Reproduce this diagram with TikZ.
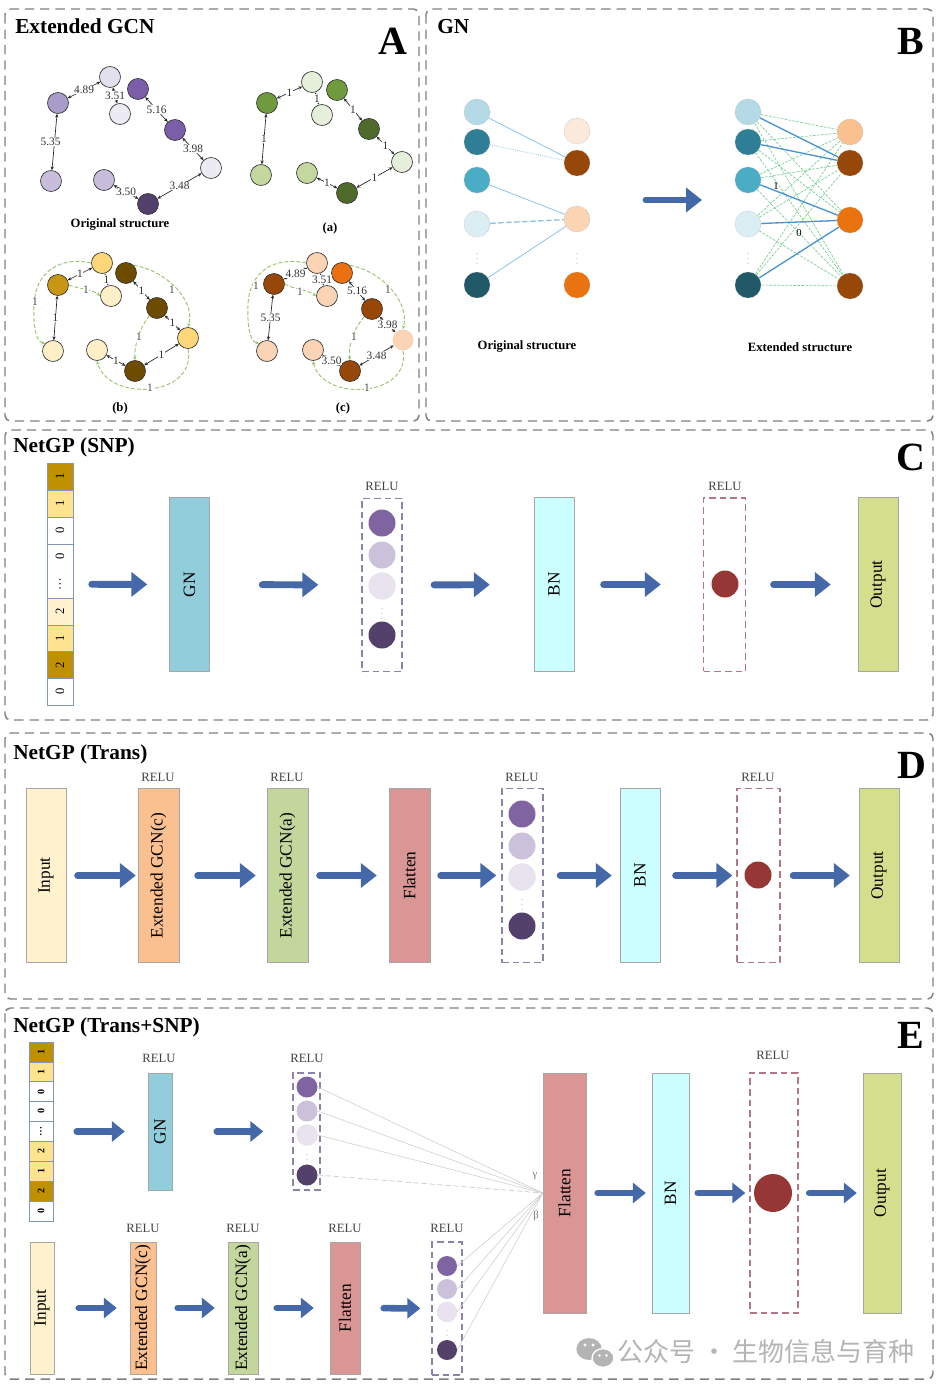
\documentclass[tikz,border=0pt]{standalone}
\usepackage{fontspec}
\setmainfont{Liberation Serif}
\newfontfamily\cjkfont{Noto Sans CJK SC}
\usepackage{graphicx}
\usetikzlibrary{arrows.meta}
\definecolor{framegray}{HTML}{808080}
\definecolor{arrowblue}{HTML}{4568A8}
\definecolor{relugray}{HTML}{404040}
\definecolor{purpA}{HTML}{8064A2}
\definecolor{purpB}{HTML}{CCC1DA}
\definecolor{purpC}{HTML}{E8E3EF}
\definecolor{purpD}{HTML}{53406B}
\definecolor{reluboxP}{HTML}{8C84A8}
\definecolor{reluboxR}{HTML}{B07882}
\definecolor{redball}{HTML}{953735}
\definecolor{gnfill}{HTML}{92CDDC}
\definecolor{bnfill}{HTML}{CCFFFF}
\definecolor{outfill}{HTML}{D4DF8E}
\definecolor{infill}{HTML}{FFF2CC}
\definecolor{ecfill}{HTML}{FAC090}
\definecolor{eafill}{HTML}{C3D69B}
\definecolor{flfill}{HTML}{D99694}
\definecolor{goldD}{HTML}{BF9000}
\definecolor{goldL}{HTML}{FFE38F}
\definecolor{goldP}{HTML}{FFF2CC}
\definecolor{cellline}{HTML}{8497B0}
\definecolor{wmgray}{HTML}{B4B4B4}
\definecolor{fangray}{HTML}{D0D0D0}
\definecolor{greenedge}{HTML}{9DC46E}
\definecolor{bblue}{HTML}{8DC3E8}
\definecolor{bbold}{HTML}{4A94D2}
\definecolor{bgreen}{HTML}{6CCB8A}
% graph colours
\definecolor{P0}{HTML}{E4DFEE}
\definecolor{P1}{HTML}{A99CC9}
\definecolor{P2}{HTML}{7B5EA7}
\definecolor{P3}{HTML}{C8BEDC}
\definecolor{P4}{HTML}{54406D}
\definecolor{P5}{HTML}{ECEAF3}
\definecolor{G0}{HTML}{E6EFDA}
\definecolor{G1}{HTML}{6F9A3E}
\definecolor{G2}{HTML}{4F6B2B}
\definecolor{G3}{HTML}{C3D79E}
\definecolor{Y0}{HTML}{FDD77A}
\definecolor{Y1}{HTML}{C79612}
\definecolor{Y2}{HTML}{6D4C00}
\definecolor{Y3}{HTML}{FFF0C7}
\definecolor{O0}{HTML}{FBD4B6}
\definecolor{O1}{HTML}{974708}
\definecolor{O2}{HTML}{E96F10}
\definecolor{Bl1}{HTML}{B3DAE6}
\definecolor{Bl2}{HTML}{2E7F95}
\definecolor{Bl3}{HTML}{4BACC6}
\definecolor{Bl4}{HTML}{DAEEF3}
\definecolor{Bl5}{HTML}{215968}
\definecolor{Br1}{HTML}{FDE9D9}
\definecolor{Br3}{HTML}{FBD4B4}
\definecolor{Br4}{HTML}{E8730F}
\definecolor{Br5}{HTML}{FAC090}
\tikzset{
  panel/.style={draw=framegray,line width=1.1pt,dash pattern=on 7pt off 4.5pt,rounded corners=4pt},
  ptitle/.style={font=\fontsize{16}{18}\selectfont\bfseries,anchor=base west,inner sep=0pt},
  pletter/.style={font=\fontsize{30}{32}\selectfont\bfseries,anchor=base,inner sep=0pt},
  bigarrow/.style={draw=arrowblue,line width=5.2pt,line cap=round,-{Triangle[length=12pt,width=18pt]}},
  smallarrow/.style={draw=arrowblue,line width=4.9pt,line cap=round,-{Triangle[length=9.75pt,width=15pt]}},
  arr/.style 2 args={bigarrow,shorten <=#1,shorten >=#2},
  sarr/.style 2 args={smallarrow,shorten <=#1,shorten >=#2},
  layer/.style={rectangle,inner sep=0pt,draw=black!35,line width=0.3pt,font=\fontsize{13}{14}\selectfont},
  cbox/.style={layer,minimum width=30pt,minimum height=130.5pt},
  rbox/.style={rectangle,draw=#1,dash pattern=on 5pt off 3pt,line width=1pt,inner sep=0pt},
  ball/.style={circle,inner sep=0pt,minimum size=#1},
  relu/.style={font=\fontsize{9.5}{10}\selectfont,text=relugray,inner sep=0pt},
  vdot/.style={font=\fontsize{6}{6}\selectfont,text=black!45,inner sep=0pt},
  gnode/.style={circle,draw=black!80,line width=0.5pt,inner sep=0pt,minimum size=15.75pt},
  gedge/.style={draw=black!85,line width=0.5pt,{Stealth[length=2.8pt,width=2.4pt]}-{Stealth[length=2.8pt,width=2.4pt]}},
  elab/.style={fill=white,inner sep=0.4pt,font=\fontsize{8.5}{9}\selectfont,text=black!80},
  gcurve/.style={draw=greenedge,line width=0.7pt,dash pattern=on 3pt off 1.5pt,-{Stealth[length=3pt,width=2.6pt]}},
  glab/.style={fill=white,inner sep=0.4pt,font=\fontsize{8.5}{9}\selectfont,text=black!70},
  sublab/.style={font=\fontsize{9.5}{10}\selectfont\bfseries,inner sep=0pt},
  bnode/.style={circle,inner sep=0pt,minimum size=19.5pt,draw=black!35,line width=0.4pt,densely dotted},
  bdash/.style={draw=bgreen,line width=0.45pt,dash pattern=on 2pt off 1pt},
  cellC/.style={rectangle,draw=cellline,line width=0.5pt,inner sep=0pt,minimum width=19.5pt,font=\fontsize{9.5}{10}\selectfont},
  cellE/.style={rectangle,draw=cellline,line width=0.5pt,inner sep=0pt,minimum width=18pt,minimum height=15pt,font=\fontsize{7.5}{8}\selectfont\bfseries},
  celltxt/.style={inner sep=0pt,font=\fontsize{9.5}{10}\selectfont}
}
\begin{document}
\begin{tikzpicture}[x=0.75pt,y=-0.75pt]
\fill[white] (0,0) rectangle (943,1391);
\useasboundingbox (0,0) rectangle (943,1391);

%================ Panel A =================
\draw[panel] (5,9) rectangle (419,421);
\node[ptitle] (tA) at (15,34) {Extended GCN};
\node[pletter] (lA) at (393,55) {A};

% original structure
\node[gnode,fill=P0] (n1) at (110,77) {};
\node[gnode,fill=P1] (n2) at (58,103) {};
\node[gnode,fill=P2] (n3) at (138,89) {};
\node[gnode,fill=P5] (n4) at (120,114) {};
\node[gnode,fill=P2] (n5) at (175,130) {};
\node[gnode,fill=P5] (n6) at (211,168) {};
\node[gnode,fill=P3] (n7) at (51,181) {};
\node[gnode,fill=P3] (n8) at (104,180) {};
\node[gnode,fill=P4] (n9) at (148,204) {};
\draw[gedge] (n1) -- node[elab]{4.89} (n2);
\draw[gedge] (n1) -- node[elab]{3.51} (n4);
\draw[gedge] (n3) -- node[elab]{5.16} (n5);
\draw[gedge] (n5) -- node[elab]{3.98} (n6);
\draw[gedge] (n6) -- node[elab]{3.48} (n9);
\draw[gedge] (n9) -- node[elab]{3.50} (n8);
\draw[gedge] (n2) -- node[elab,xshift=-3pt]{5.35} (n7);
\node[sublab] (sOrig) at (120,225) {Original structure};

% (a)
\node[gnode,fill=G0] (a1) at (312,82) {};
\node[gnode,fill=G1] (a2) at (267,103) {};
\node[gnode,fill=G1] (a3) at (337,90) {};
\node[gnode,fill=G0] (a4) at (322,115) {};
\node[gnode,fill=G2] (a5) at (369,129) {};
\node[gnode,fill=G0] (a6) at (402,162) {};
\node[gnode,fill=G3] (a7) at (261,175) {};
\node[gnode,fill=G3] (a8) at (307,173) {};
\node[gnode,fill=G2] (a9) at (347,193) {};
\draw[gedge] (a1) -- node[elab]{1} (a2);
\draw[gedge] (a1) -- node[elab]{1} (a4);
\draw[gedge] (a3) -- node[elab]{1} (a5);
\draw[gedge] (a5) -- node[elab]{1} (a6);
\draw[gedge] (a6) -- node[elab]{1} (a9);
\draw[gedge] (a9) -- node[elab]{1} (a8);
\draw[gedge] (a2) -- node[elab]{1} (a7);
\node[sublab] (sA) at (330,228) {(a)};

% (b)
\node[gnode,fill=Y0] (b1) at (102,263) {};
\node[gnode,fill=Y1] (b2) at (58,285) {};
\node[gnode,fill=Y2] (b3) at (126,273) {};
\node[gnode,fill=Y3] (b4) at (111,296) {};
\node[gnode,fill=Y2] (b5) at (157,308) {};
\node[gnode,fill=Y0] (b6) at (188,338) {};
\node[gnode,fill=Y3] (b7) at (53,351) {};
\node[gnode,fill=Y3] (b8) at (97,350) {};
\node[gnode,fill=Y2] (b9) at (135,371) {};
\draw[gcurve] (b1.west) .. controls (60,256) and (35,272) .. (34,305) .. controls (33,330) and (37,342) .. (b7.north west);
\draw[gcurve] (b2.east) .. controls (78,289) and (92,289) .. (b4.west);
\draw[gcurve] (b3.north east) .. controls (165,270) and (196,300) .. (b6.north);
\draw[gcurve] (b5.south west) .. controls (140,328) and (134,345) .. (b9.north);
\draw[gcurve] (b6.south) .. controls (197,398) and (108,402) .. (b8.south);
\node[glab] (bl1) at (35,302) {1};
\node[glab] (bl2) at (86,290) {1};
\node[glab] (bl3) at (172,290) {1};
\node[glab] (bl4) at (139,337) {1};
\node[glab] (bl5) at (150,388) {1};
\draw[gedge] (b1) -- node[elab]{1} (b2);
\draw[gedge] (b1) -- node[elab]{1} (b4);
\draw[gedge] (b3) -- node[elab]{1} (b5);
\draw[gedge] (b5) -- node[elab]{1} (b6);
\draw[gedge] (b6) -- node[elab]{1} (b9);
\draw[gedge] (b9) -- node[elab]{1} (b8);
\draw[gedge] (b2) -- node[elab]{1} (b7);
\node[sublab] (sB) at (120,408) {(b)};

% (c)
\node[gnode,fill=O0] (c1) at (317,263) {};
\node[gnode,fill=O1] (c2) at (274,284) {};
\node[gnode,fill=O2] (c3) at (342,273) {};
\node[gnode,fill=O0] (c4) at (327,296) {};
\node[gnode,fill=O1] (c5) at (372,309) {};
\node[gnode,fill=O0,draw=none] (c6) at (403,340) {};
\node[gnode,fill=O0] (c7) at (267,351) {};
\node[gnode,fill=O0] (c8) at (313,350) {};
\node[gnode,fill=O1] (c9) at (350,371) {};
\draw[gcurve] (c1.west) .. controls (274,256) and (249,272) .. (248,305) .. controls (247,330) and (251,342) .. (c7.north west);
\draw[gcurve] (c2.east) .. controls (292,289) and (306,289) .. (c4.west);
\draw[gcurve] (c3.north east) .. controls (379,270) and (410,300) .. (c6.north);
\draw[gcurve] (c5.south west) .. controls (354,328) and (348,345) .. (c9.north);
\draw[gcurve] (c6.south) .. controls (411,398) and (322,402) .. (c8.south);
\node[glab] (cl1) at (256,286) {1};
\node[glab] (cl2) at (300,292) {1};
\node[glab] (cl3) at (388,290) {1};
\node[glab] (cl4) at (354,337) {1};
\node[glab] (cl5) at (367,388) {1};
\draw[gedge] (c1) -- node[elab]{4.89} (c2);
\draw[gedge] (c1) -- node[elab]{3.51} (c4);
\draw[gedge] (c3) -- node[elab]{5.16} (c5);
\draw[gedge] (c5) -- node[elab]{3.98} (c6);
\draw[gedge] (c6) -- node[elab]{3.48} (c9);
\draw[gedge] (c9) -- node[elab]{3.50} (c8);
\draw[gedge] (c2) -- node[elab]{5.35} (c7);
\node[sublab] (sC) at (343,408) {(c)};

%================ Panel B =================
\draw[panel] (426,9) rectangle (933,421);
\node[ptitle] (tB) at (437,34) {GN};
\node[pletter] (lB) at (911,55) {B};

\node[bnode,fill=Bl1] (oL1) at (477,112) {};
\node[bnode,fill=Bl2] (oL2) at (477,142) {};
\node[bnode,fill=Bl3] (oL3) at (477,180) {};
\node[bnode,fill=Bl4] (oL4) at (477,224) {};
\node[bnode,fill=Bl5] (oL5) at (477,285) {};
\node[vdot] (oLd) at (477,255) {$\vdots$};
\node[bnode,fill=Br1] (oR1) at (577,131) {};
\node[bnode,fill=O1] (oR2) at (577,163) {};
\node[bnode,fill=Br3] (oR3) at (577,219) {};
\node[bnode,fill=Br4] (oR4) at (577,285) {};
\node[vdot] (oRd) at (577,255) {$\vdots$};
\draw[bblue,line width=0.6pt] (oL1) -- (oR2);
\draw[bblue,line width=0.6pt,densely dotted] (oL2) -- (oR2);
\draw[bblue,line width=0.6pt] (oL3) -- (oR3);
\draw[bblue,line width=1pt,dash pattern=on 4pt off 2pt] (oL4) -- (oR3);
\draw[bblue,line width=0.6pt] (oL5) -- (oR3);
\node[sublab] (sBo) at (527,347) {Original structure};

\coordinate (bA) at (646,200);
\coordinate (bB) at (702,200);
\draw[bigarrow] (bA) -- (bB);

\node[bnode,fill=Bl1] (eL1) at (748,112) {};
\node[bnode,fill=Bl2] (eL2) at (748,142) {};
\node[bnode,fill=Bl3] (eL3) at (748,180) {};
\node[bnode,fill=Bl4] (eL4) at (748,224) {};
\node[bnode,fill=Bl5] (eL5) at (748,285) {};
\node[vdot] (eLd) at (748,255) {$\vdots$};
\node[bnode,fill=Br5] (eR1) at (850,132) {};
\node[bnode,fill=O1] (eR2) at (850,163) {};
\node[bnode,fill=Br4] (eR3) at (850,220) {};
\node[bnode,fill=O1] (eR4) at (850,286) {};
\foreach \l/\r in {eL1/eR1,eL1/eR3,eL1/eR4,eL2/eR1,eL2/eR3,eL2/eR4,eL3/eR1,eL3/eR2,eL3/eR4,eL4/eR1,eL4/eR2,eL4/eR4,eL5/eR1,eL5/eR2,eL5/eR4}
  \draw[bdash] (\l) -- (\r);
\draw[bbold,line width=1pt] (eL1) -- (eR2);
\draw[bbold,line width=1pt] (eL2) -- (eR2);
\draw[bbold,line width=1pt] (eL3) -- (eR3);
\draw[bbold,line width=1pt] (eL4) -- (eR3);
\draw[bbold,line width=1pt] (eL5) -- (eR3);
\node[inner sep=0pt,font=\fontsize{8}{8}\selectfont] (w1) at (776,186) {1};
\node[inner sep=0pt,font=\fontsize{8}{8}\selectfont] (w0) at (799,233) {0};
\node[sublab] (sBe) at (800,347) {Extended structure};

%================ Panel C =================
\draw[panel] (5,430) rectangle (933,720);
\node[ptitle] (tC) at (13,452) {NetGP (SNP)};
\node[pletter] (lC) at (911,470) {C};

\node[inner sep=0pt,minimum width=19.5pt,minimum height=181.5pt] (snpC) at (60,584.2) {};
\node[cellC,fill=goldD,minimum height=20pt] (sc1) at (60,476.7) {\rotatebox{90}{1}};
\node[cellC,fill=goldL,minimum height=20.5pt] (sc2) at (60,503.7) {\rotatebox{90}{1}};
\node[cellC,fill=white,minimum height=20pt] (sc3) at (60,530.7) {\rotatebox{90}{0}};
\node[cellC,fill=white,minimum height=40.7pt] (sc4) at (60,571.2) {};
\node[celltxt] (sc4a) at (60,556.5) {\rotatebox{90}{0}};
\node[celltxt] (sc4b) at (60,584) {\rotatebox{90}{…}};
\node[cellC,fill=goldP,minimum height=20pt] (sc5) at (60,611.7) {\rotatebox{90}{2}};
\node[cellC,fill=goldL,minimum height=20pt] (sc6) at (60,638.3) {\rotatebox{90}{1}};
\node[cellC,fill=goldD,minimum height=20pt] (sc7) at (60,665) {\rotatebox{90}{2}};
\node[cellC,fill=white,minimum height=20pt] (sc8) at (60,691.7) {\rotatebox{90}{0}};

\node[cbox,fill=gnfill] (gnC) at (189.5,584.5) {\rotatebox{90}{GN}};
\node[rbox=reluboxP,minimum width=30pt,minimum height=130pt] (r1C) at (382,585) {};
\node[relu] (r1Cl) at (382,486) {RELU};
\node[ball=20.25pt,fill=purpA] (c1C) at (382,523) {};
\node[ball=20.25pt,fill=purpB] (c2C) at (382,555) {};
\node[ball=20.25pt,fill=purpC,draw=black!20,densely dotted,line width=0.3pt] (c3C) at (382,586) {};
\node[vdot] (dC) at (382,610) {$\vdots$};
\node[ball=20.25pt,fill=purpD] (c4C) at (382,635) {};
\node[cbox,fill=bnfill] (bnC) at (554,584.5) {\rotatebox{90}{BN}};
\node[rbox=reluboxR,minimum width=31.5pt,minimum height=130pt] (r2C) at (724.5,584.5) {};
\node[relu] (r2Cl) at (725,486) {RELU};
\node[ball=20.25pt,fill=redball] (c5C) at (725,584) {};
\node[cbox,fill=outfill] (outC) at (878,584.5) {\rotatebox{90}{Output}};

\draw[arr={13.9pt}{16.5pt}] (snpC.east) -- (gnC.west);
\draw[arr={39.4pt}{32.25pt}] (gnC.east) -- (r1C.west);
\draw[arr={23.6pt}{33pt}] (r1C.east) -- (bnC.west);
\draw[arr={22.1pt}{31.5pt}] (bnC.east) -- (r2C.west);
\draw[arr={20.6pt}{20.25pt}] (r2C.east) -- (outC.west);

%================ Panel D =================
\draw[panel] (5,733) rectangle (933,999);
\node[ptitle] (tD) at (13,759) {NetGP (Trans)};
\node[pletter] (lD) at (912,778) {D};

\node[cbox,fill=infill] (inD) at (46,875.5) {\rotatebox{90}{Input}};
\node[cbox,fill=ecfill,minimum width=30.75pt] (ecD) at (158.5,875.5) {\rotatebox{90}{Extended GCN(c)}};
\node[relu] (ecDl) at (158,777) {RELU};
\node[cbox,fill=eafill,minimum width=30.75pt] (eaD) at (287.5,875.5) {\rotatebox{90}{Extended GCN(a)}};
\node[relu] (eaDl) at (287,777) {RELU};
\node[cbox,fill=flfill,minimum width=30.75pt] (flD) at (409.5,875.5) {\rotatebox{90}{Flatten}};
\node[rbox=reluboxP,minimum width=30.75pt,minimum height=130.5pt] (r1D) at (522.5,875.5) {};
\node[relu] (r1Dl) at (522,777) {RELU};
\node[ball=20.25pt,fill=purpA] (c1D) at (522,814) {};
\node[ball=20.25pt,fill=purpB] (c2D) at (522,846) {};
\node[ball=20.25pt,fill=purpC,draw=black!20,densely dotted,line width=0.3pt] (c3D) at (522,877) {};
\node[vdot] (dD) at (522,901) {$\vdots$};
\node[ball=20.25pt,fill=purpD] (c4D) at (522,926) {};
\node[cbox,fill=bnfill] (bnD) at (640,875.5) {\rotatebox{90}{BN}};
\node[rbox=reluboxR,minimum width=32.25pt,minimum height=130.5pt] (r2D) at (758.5,875.5) {};
\node[relu] (r2Dl) at (758,777) {RELU};
\node[ball=20.25pt,fill=redball] (c5D) at (758,875) {};
\node[cbox,fill=outfill] (outD) at (879,875.5) {\rotatebox{90}{Output}};

\draw[arr={8.6pt}{1.5pt}] (inD.east) -- (ecD.west);
\draw[arr={13.9pt}{8.25pt}] (ecD.east) -- (eaD.west);
\draw[arr={8.6pt}{9pt}] (eaD.east) -- (flD.west);
\draw[arr={7.9pt}{3.75pt}] (flD.east) -- (r1D.west);
\draw[arr={12.4pt}{6pt}] (r1D.east) -- (bnD.west);
\draw[arr={11.6pt}{3pt}] (bnD.east) -- (r2D.west);
\draw[arr={9.4pt}{6.75pt}] (r2D.east) -- (outD.west);

%================ Panel E =================
\draw[panel] (5,1008) rectangle (933,1379);
\node[ptitle] (tE) at (13,1032) {NetGP (Trans+SNP)};
\node[pletter] (lE) at (911,1048) {E};

% SNP column (top row)
\node[inner sep=0pt,minimum width=18pt,minimum height=134.25pt] (snpE) at (41,1131.5) {};
\node[cellE,fill=goldD] (se1) at (41,1052) {\rotatebox{90}{1}};
\node[cellE,fill=goldL] (se2) at (41,1072) {\rotatebox{90}{1}};
\node[cellE,fill=white] (se3) at (41,1091.5) {\rotatebox{90}{0}};
\node[cellE,fill=white] (se4) at (41,1111) {\rotatebox{90}{0}};
\node[cellE,fill=white] (se5) at (41,1131) {\rotatebox{90}{…}};
\node[cellE,fill=goldL] (se6) at (41,1151) {\rotatebox{90}{2}};
\node[cellE,fill=goldL] (se7) at (41,1171) {\rotatebox{90}{1}};
\node[cellE,fill=goldD] (se8) at (41,1191) {\rotatebox{90}{2}};
\node[cellE,fill=white] (se9) at (41,1211) {\rotatebox{90}{0}};

\node[layer,fill=gnfill,minimum width=18pt,minimum height=87.75pt] (gnE) at (160,1131.5) {\rotatebox{90}{GN}};
\node[relu] (gnEl) at (159,1058) {RELU};
\node[rbox=reluboxP,minimum width=20.25pt,minimum height=87.75pt] (r1E) at (306.5,1131.5) {};
\node[relu] (r1El) at (307,1058) {RELU};
\node[ball=15.75pt,fill=purpA] (c1E) at (307,1087) {};
\node[ball=15.75pt,fill=purpB] (c2E) at (307,1111) {};
\node[ball=15.75pt,fill=purpC,draw=black!20,densely dotted,line width=0.3pt] (c3E) at (307,1135) {};
\node[vdot] (dE1) at (307,1156) {$\vdots$};
\node[ball=15.75pt,fill=purpD] (c4E) at (307,1175) {};

% bottom row
\node[layer,fill=infill,minimum width=18pt,minimum height=99pt] (inE) at (42,1308) {\rotatebox{90}{Input}};
\node[layer,fill=ecfill,minimum width=19.5pt,minimum height=99pt] (ecE) at (143,1308) {\rotatebox{90}{Extended GCN(c)}};
\node[relu] (ecEl) at (143,1228) {RELU};
\node[layer,fill=eafill,minimum width=22.5pt,minimum height=99pt] (eaE) at (243,1308) {\rotatebox{90}{Extended GCN(a)}};
\node[relu] (eaEl) at (243,1228) {RELU};
\node[layer,fill=flfill,minimum width=22.5pt,minimum height=99pt] (flE) at (345,1308) {\rotatebox{90}{Flatten}};
\node[relu] (flEl) at (345,1228) {RELU};
\node[rbox=reluboxP,minimum width=22.5pt,minimum height=99.75pt] (r2E) at (447,1308.5) {};
\node[relu] (r2El) at (447,1228) {RELU};
\node[ball=15pt,fill=purpA] (c5E) at (447,1266) {};
\node[ball=15pt,fill=purpB] (c6E) at (447,1289) {};
\node[ball=15pt,fill=purpC,draw=black!20,densely dotted,line width=0.3pt] (c7E) at (447,1312) {};
\node[vdot] (dE2) at (447,1332) {$\vdots$};
\node[ball=15pt,fill=purpD] (c8E) at (447,1350) {};

% right part
\node[layer,fill=flfill,minimum width=32.25pt,minimum height=180pt] (bigfl) at (564.5,1193) {\rotatebox{90}{Flatten}};
\node[layer,fill=bnfill,minimum width=27.75pt,minimum height=180pt] (bnE) at (670.5,1193) {\rotatebox{90}{BN}};
\node[rbox=reluboxR,minimum width=36pt,minimum height=180pt] (r3E) at (774,1193) {};
\node[relu] (r3El) at (773,1055) {RELU};
\node[ball=28.5pt,fill=redball] (c9E) at (773,1193) {};
\node[layer,fill=outfill,minimum width=28.5pt,minimum height=180pt] (outE) at (882,1193) {\rotatebox{90}{Output}};

% fan lines
\foreach \c in {c1E,c2E,c3E}
  \draw[fangray,line width=0.45pt] (\c.east) -- (bigfl.west);
\draw[fangray,line width=0.6pt,dash pattern=on 4pt off 2pt] (c4E.east) -- (bigfl.west);
\foreach \c in {c5E,c6E,c7E,c8E}
  \draw[fangray,line width=0.45pt] (\c.east) -- (bigfl.west);
\node[inner sep=0pt,font=\fontsize{8}{8}\selectfont,text=black!55] (gam) at (535,1176) {γ};
\node[inner sep=0pt,font=\fontsize{8}{8}\selectfont,text=black!55] (bet) at (536,1216) {β};

\draw[sarr={17.6pt}{17.25pt}] (snpE.east) -- (gnE.west);
\draw[sarr={33.4pt}{21.75pt}] (gnE.east) -- (r1E.west);
\draw[sarr={18.4pt}{9.75pt}] (inE.east) -- (ecE.west);
\draw[sarr={16.1pt}{9.75pt}] (ecE.east) -- (eaE.west);
\draw[sarr={13.9pt}{12pt}] (eaE.east) -- (flE.west);
\draw[sarr={17.6pt}{8.25pt}] (flE.east) -- (r2E.west);
\draw[sarr={8.6pt}{4.5pt}] (bigfl.east) -- (bnE.west);
\draw[sarr={6.4pt}{3pt}] (bnE.east) -- (r3E.west);
\draw[sarr={7.9pt}{4.5pt}] (r3E.east) -- (outE.west);

% watermark
\fill[wmgray] (589,1349) ellipse [x radius=9.5pt,y radius=8.2pt];
\fill[white] (585,1345) circle [radius=1.2pt];
\fill[white] (593,1345) circle [radius=1.2pt];
\filldraw[fill=wmgray,draw=white,line width=1pt] (603,1358) ellipse [x radius=8.2pt,y radius=7pt];
\fill[white] (599.5,1355.5) circle [radius=1pt];
\fill[white] (606.5,1355.5) circle [radius=1pt];
\node[anchor=west,inner sep=0pt,font=\cjkfont\fontsize{19.5}{20}\selectfont,text=wmgray] (wm) at (617,1352) {公众号 · 生物信息与育种};
\end{tikzpicture}
\end{document}
